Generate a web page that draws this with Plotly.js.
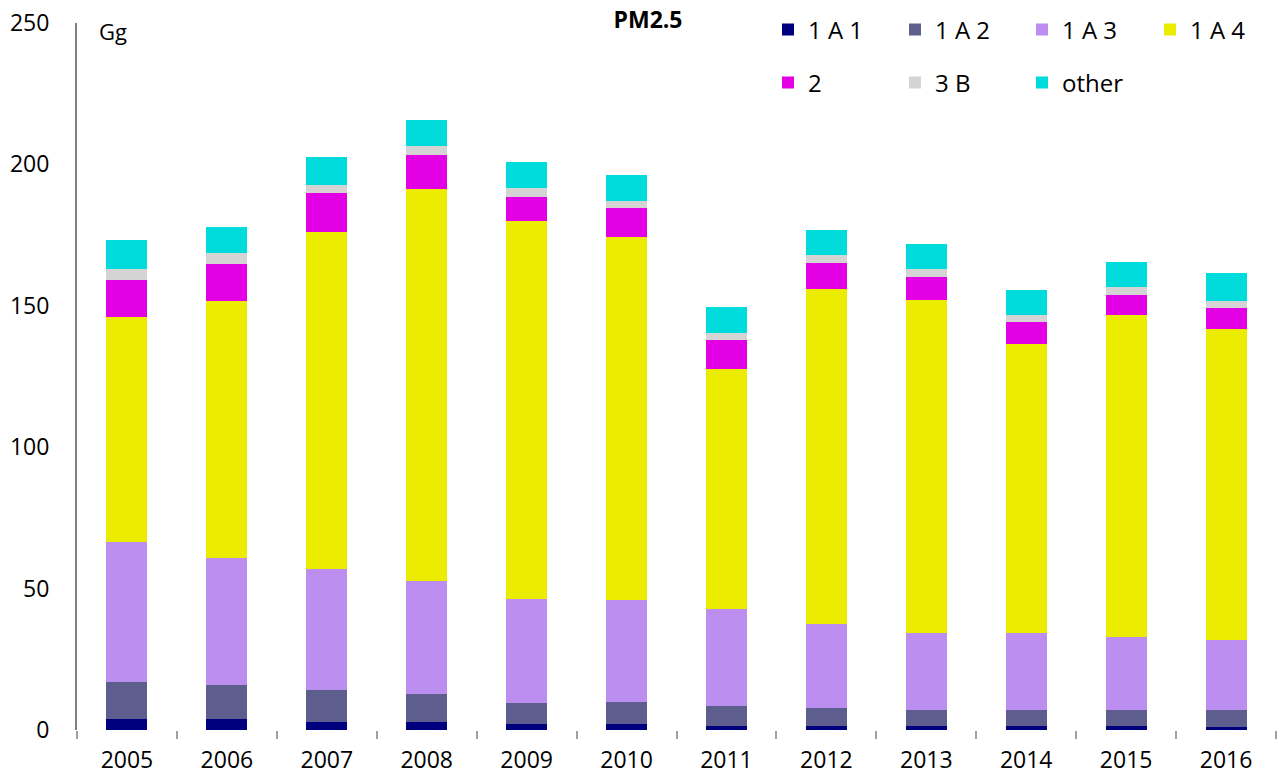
<!DOCTYPE html>
<html>
<head>
<meta charset="utf-8">
<script src="https://cdn.plot.ly/plotly-3.0.1.min.js"></script>
<style>
  html, body { margin: 0; padding: 0; background: #fff; }
  #chart { width: 1277px; height: 778px; }
</style>
</head>
<body>
<div id="chart"></div>
<script>
const years = ["2005","2006","2007","2008","2009","2010","2011","2012","2013","2014","2015","2016"];
const s1A1  = [3.9, 3.9, 2.8, 2.8, 2.1, 2.1, 1.4, 1.4, 1.4, 1.4, 1.4, 1.1];
const s1A2  = [13.1, 12.0, 11.3, 9.9, 7.4, 7.8, 7.1, 6.4, 5.7, 5.7, 5.7, 6.0];
const s1A3  = [49.5, 44.9, 42.8, 40.0, 36.8, 36.1, 34.3, 29.7, 27.2, 27.2, 25.8, 24.7];
const s1A4  = [79.5, 90.9, 119.2, 138.6, 133.7, 128.3, 84.9, 118.4, 117.8, 102.2, 113.8, 110.0];
const s2    = [13.1, 13.1, 13.8, 12.0, 8.5, 10.3, 10.2, 9.2, 8.1, 7.8, 7.1, 7.4];
const s3B   = [3.9, 3.9, 2.8, 3.2, 3.2, 2.5, 2.5, 2.9, 2.8, 2.4, 2.8, 2.5];
const sOther= [10.3, 9.2, 9.9, 9.2, 9.1, 9.2, 9.2, 8.8, 8.9, 8.9, 8.9, 9.9];
const seriesNames = ["1 A 1", "1 A 2", "1 A 3", "1 A 4", "2", "3 B", "other"];

const seriesData = [s1A1, s1A2, s1A3, s1A4, s2, s3B, sOther];
const colors = ["#00007e", "#5e5e8e", "#bb8ef0", "#ecec00", "#e400e4", "#d4d4d4", "#00dcdc"];
const legendIds = ["legend", "legend", "legend", "legend3", "legend2", "legend2", "legend2"];

const traces = seriesData.map((vals, i) => ({
  type: "bar",
  name: seriesNames[i],
  x: years,
  y: vals,
  marker: { color: colors[i], line: { width: 0 } },
  legend: legendIds[i],
  hoverinfo: "x+y+name"
}));

const fontFam = "'Open Sans', Lato, sans-serif";

function legendAt(px, py) {
  return {
    orientation: "h",
    x: (px - 77) / 1200, xanchor: "left",
    y: (730 - py) / 707, yanchor: "middle",
    entrywidth: 82, entrywidthmode: "pixels",
    font: { family: fontFam, size: 24, color: "#000" },
    bgcolor: "rgba(0,0,0,0)",
    traceorder: "normal"
  };
}

const layout = {
  width: 1277,
  height: 778,
  margin: { l: 77, r: 0, t: 23, b: 48 },
  paper_bgcolor: "#ffffff",
  plot_bgcolor: "#ffffff",
  barmode: "stack",
  bargap: 0.59,
  font: { family: fontFam, size: 22, color: "#000" },
  showlegend: true,
  xaxis: {
    type: "category",
    showgrid: false,
    zeroline: false,
    showline: false,
    ticks: "outside",
    tickson: "boundaries",
    ticklen: 8,
    tickwidth: 2,
    tickcolor: "#a0a0a0",
    tickfont: { family: fontFam, size: 23, color: "#000" },
    ticklabelstandoff: 14
  },
  yaxis: {
    range: [0, 250],
    tickvals: [0, 50, 100, 150, 200, 250],
    showgrid: false,
    zeroline: false,
    showline: true,
    linecolor: "#808080",
    linewidth: 2,
    ticks: "",
    tickfont: { family: fontFam, size: 23, color: "#000" },
    ticklabelstandoff: 21
  },
  title: {
    text: "<b>PM2.5</b>",
    font: { family: fontFam, size: 23, color: "#000" },
    x: 648 / 1277,
    xanchor: "center",
    y: 1 - 20 / 778,
    yanchor: "middle"
  },
  annotations: [{
    text: "Gg",
    xref: "paper", yref: "paper",
    x: 20 / 1200, y: 1 - 8 / 707,
    xanchor: "left", yanchor: "middle",
    showarrow: false,
    font: { family: fontFam, size: 22, color: "#000" }
  }],
  legend: legendAt(768, 30),
  legend3: legendAt(1151, 30),
  legend2: legendAt(768, 83)
};

Plotly.newPlot("chart", traces, layout, { displayModeBar: false, responsive: false });
</script>
</body>
</html>
